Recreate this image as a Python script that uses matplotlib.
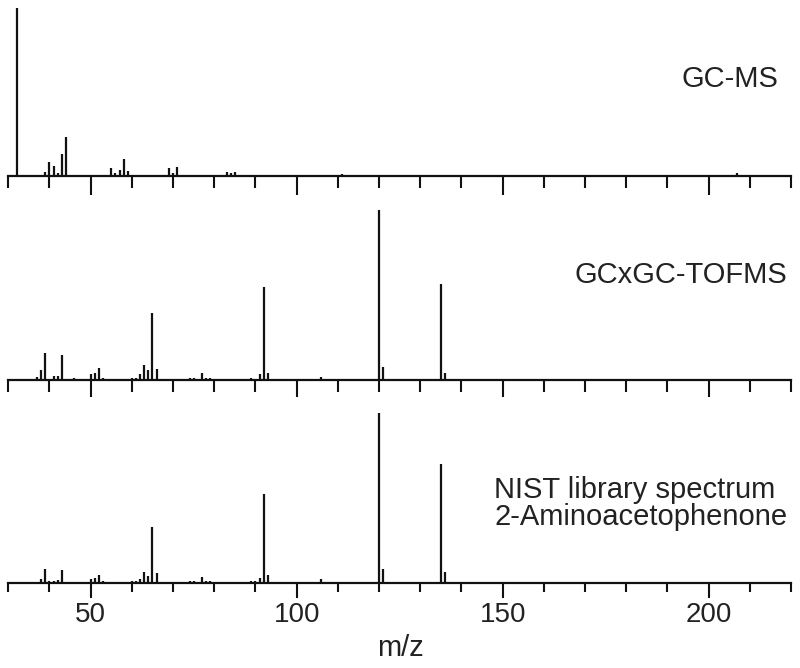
import matplotlib
matplotlib.use("Agg")
import matplotlib.pyplot as plt
from matplotlib.ticker import MultipleLocator, FixedLocator

plt.rcParams['font.family'] = ['Liberation Sans', 'DejaVu Sans']

# ---- data (relative intensities, base peak = 100) ----
gcms_mz = [32, 39, 40, 41, 42, 43, 44, 52, 55, 56, 57, 58, 59, 67, 69, 70, 71,
           72, 73, 83, 84, 85, 111, 207]
gcms_int = [100, 2.2, 8.2, 6.0, 1.6, 13.1, 23.2, 0.4, 4.9, 1.6, 3.4, 10.1, 2.8,
            0.4, 4.9, 1.8, 5.4, 0.6, 0.6, 2.4, 1.6, 2.6, 0.9, 1.5]

tof_mz = [37, 38, 39, 40, 41, 42, 43, 44, 46, 50, 51, 52, 53, 54, 60, 61, 62, 63,
          64, 65, 66, 74, 75, 76, 77, 78, 79, 89, 90, 91, 92, 93, 106, 120, 121,
          135, 136]
tof_int = [2.2, 5.9, 16.2, 0.8, 2.3, 2.5, 14.7, 0.5, 1.6, 3.9, 4.5, 7.4, 1.6, 1.0,
           1.6, 1.6, 3.9, 9.2, 5.9, 39.3, 6.8, 1.2, 1.2, 0.8, 4.3, 1.2, 1.2, 1.6,
           0.8, 3.5, 55.0, 4.3, 2.2, 100, 7.8, 56.9, 4.3]

nist_mz = [38, 39, 40, 41, 42, 43, 46, 50, 51, 52, 53, 60, 61, 62, 63, 64, 65, 66,
           74, 75, 77, 78, 79, 89, 90, 91, 92, 93, 106, 120, 121, 135, 136]
nist_int = [2.0, 7.7, 0.8, 0.8, 1.2, 7.3, 0.5, 1.8, 2.4, 4.7, 0.8, 1.0, 1.0, 2.0,
            6.3, 4.1, 32.8, 5.3, 1.0, 0.8, 3.1, 1.0, 1.0, 1.0, 0.6, 2.4, 52.1, 4.3,
            2.0, 100, 7.7, 69.7, 5.9]

major_ticks = [50, 100, 150, 200]
panel_labels = ["GC-MS", "GCxGC-TOFMS",
                "NIST library spectrum", "2-Aminoacetophenone"]
xlabel = "m/z"

# ---- layout ----
W, H = 800, 668
fig = plt.figure(figsize=(W / 100, H / 100), dpi=100)

def fx(px):
    return px / W

def fy(py):
    return 1 - py / H

left_px, right_px = 8.3, 791.0
# (baseline y px, height px, minor tick len pt, major tick len pt)
panels = [
    (176.0, 168.0, 8.6, 13.5),
    (380.3, 170.0, 8.6, 12.5),
    (582.5, 170.0, 6.8, 10.8),
]
datasets = [(gcms_mz, gcms_int), (tof_mz, tof_int), (nist_mz, nist_int)]

col = '#111111'
axes = []
for i, ((base, hgt, mnl, mjl), (mz, inten)) in enumerate(zip(panels, datasets)):
    ax = fig.add_axes([fx(left_px), fy(base), fx(right_px - left_px), hgt / H])
    ax.vlines(mz, 0, inten, colors=col, linewidth=1.6, clip_on=False)
    ax.set_xlim(30, 220)
    ax.set_ylim(0, 100)
    for s in ['top', 'left', 'right']:
        ax.spines[s].set_visible(False)
    ax.spines['bottom'].set_linewidth(1.6)
    ax.spines['bottom'].set_color(col)
    ax.set_yticks([])
    ax.xaxis.set_major_locator(FixedLocator(major_ticks))
    ax.xaxis.set_minor_locator(MultipleLocator(10))
    ax.tick_params(axis='x', which='major', direction='out', length=mjl,
                   width=1.5, color=col, labelsize=20, pad=3, labelcolor='#222222')
    ax.tick_params(axis='x', which='minor', direction='out', length=mnl,
                   width=1.5, color=col)
    if i < 2:
        ax.tick_params(axis='x', which='major', labelbottom=False)
    ax.patch.set_alpha(0)
    axes.append(ax)

tc = '#222222'
fs = 21
fig.text(fx(778), fy(87), panel_labels[0], ha='right', va='baseline',
         fontsize=fs, color=tc)
fig.text(fx(787), fy(283), panel_labels[1], ha='right', va='baseline',
         fontsize=fs, color=tc)
fig.text(fx(494), fy(498), panel_labels[2], ha='left', va='baseline',
         fontsize=fs, color=tc)
fig.text(fx(494), fy(525), panel_labels[3], ha='left', va='baseline',
         fontsize=fs, color=tc)
fig.text(fx(400), fy(656), xlabel, ha='center', va='baseline',
         fontsize=21, color=tc)

fig.savefig("out.png", dpi=100)
